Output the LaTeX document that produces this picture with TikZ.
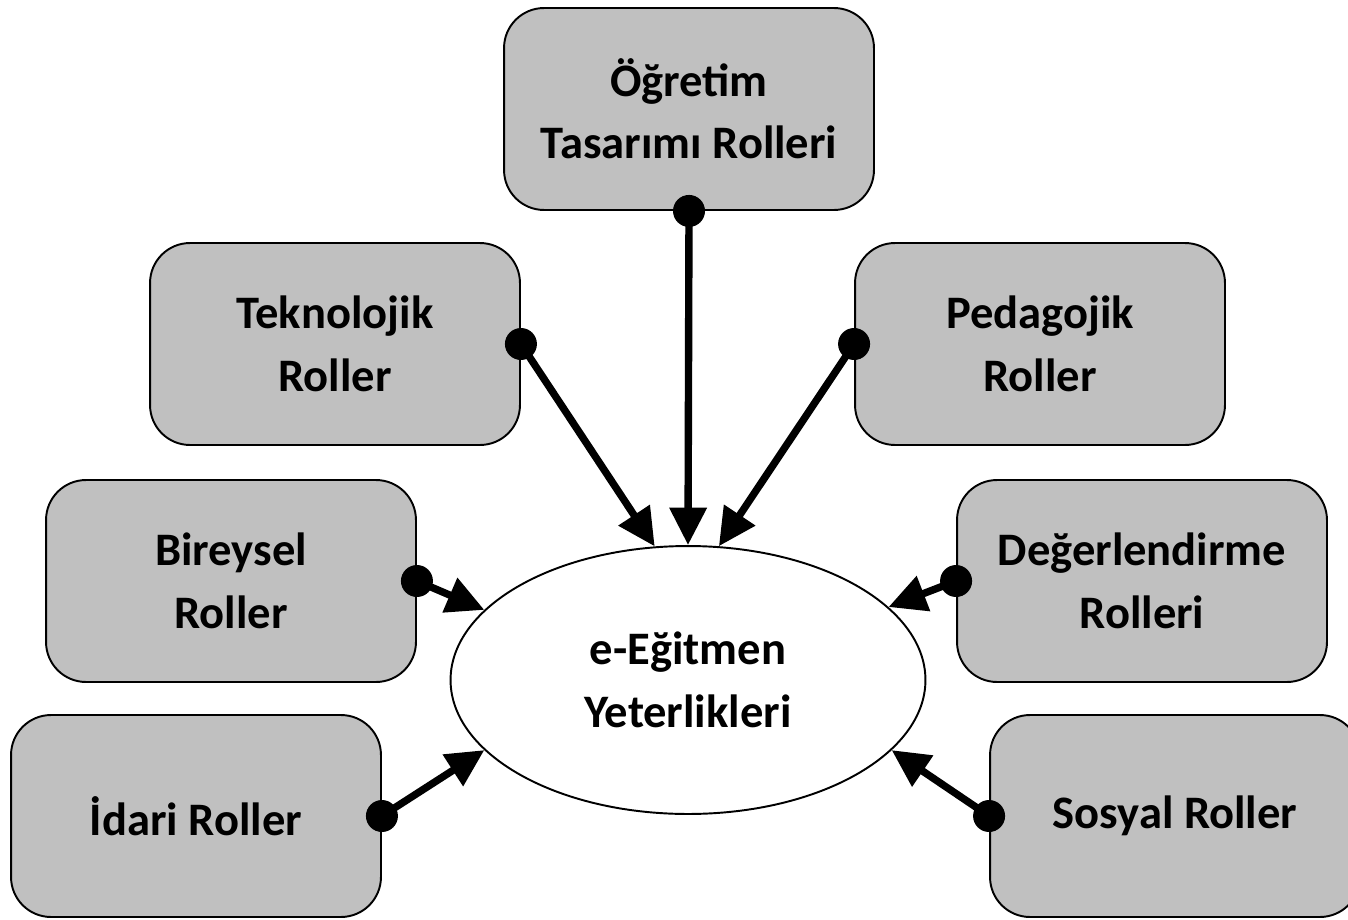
\documentclass[tikz,border=0pt]{standalone}
\usepackage{fontspec}
\setmainfont{Carlito}
\usetikzlibrary{arrows.meta,shapes.geometric}
\definecolor{boxgray}{RGB}{192,192,192}

\begin{document}
\begin{tikzpicture}[x=0.02cm,y=-0.02cm,
	role/.style={draw,line width=1.1pt,fill=boxgray,rounded corners=0.8cm,minimum width=7.4cm,minimum height=4.04cm,align=center,font=\fontsize{26.5}{35.5}\selectfont\bfseries},
	link/.style={line width=4.2pt,-{Triangle[length=0.75cm,width=0.72cm]}}]
	\useasboundingbox (0,0) rectangle (1348,919);
	\node[role](O) at (689,109){Öğretim\\Tasarımı Rolleri};
	\node[role](T) at (335,344){Teknolojik\\Roller};
	\node[role](P) at (1040,344){Pedagojik\\Roller};
	\node[role](B) at (231,581){Bireysel\\Roller};
	\node[role](D) at (1142,581){Değerlendirme\\Rolleri};
	\node[role](I) at (196,816){İdari Roller};
	\node[role](S) at (1175,816){Sosyal Roller};
	\node[draw,line width=1.1pt,ellipse,minimum width=9.5cm,minimum height=5.36cm,align=center,font=\fontsize{26.5}{35.5}\selectfont\bfseries](E) at (688,680){e-Eğitmen\\Yeterlikleri};
	\draw [link] (O.south) -- (E.north);
	\draw [link] (T.east) -- (E.104);
	\draw [link] (P.west) -- (E.77);
	\draw [link] (B.east) -- (E.161);
	\draw [link] (D.west) -- (E.20);
	\draw [link] (I.east) -- (E.199);
	\draw [link] (S.west) -- (E.341);
	\foreach \n/\a in {O/south,T/east,P/west,B/east,D/west,I/east,S/west}
		\fill (\n.\a) circle (0.32cm);
\end{tikzpicture}
\end{document}
